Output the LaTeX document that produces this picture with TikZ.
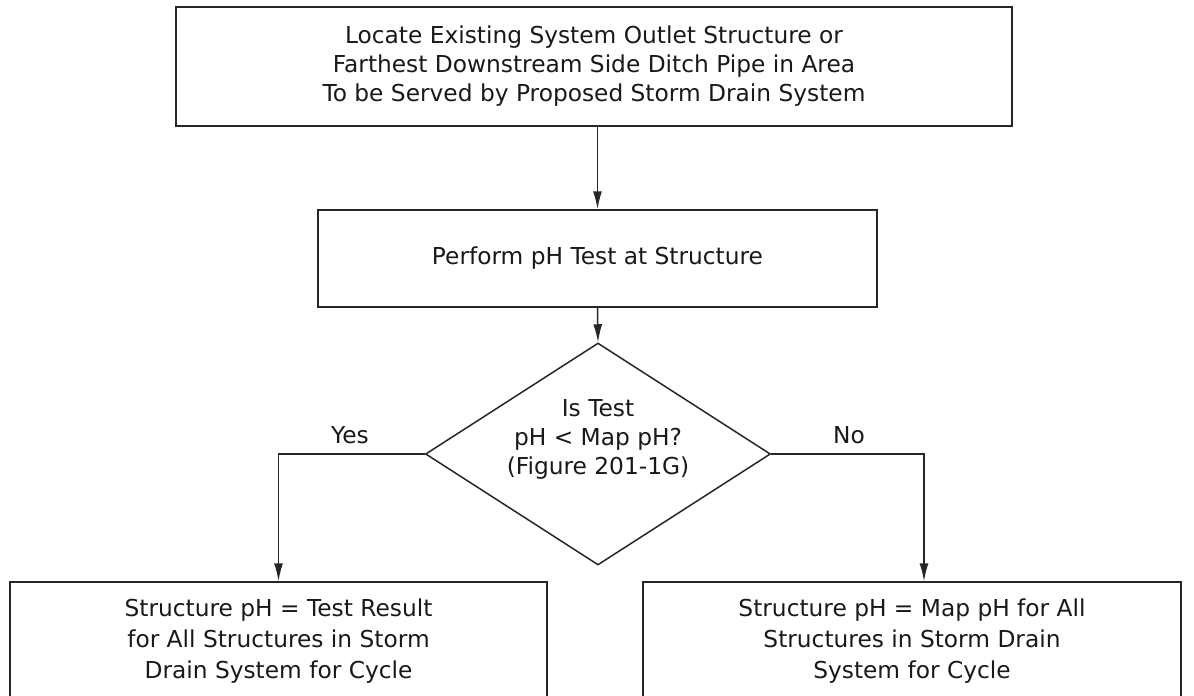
\documentclass[tikz,border=0pt]{standalone}
\usepackage{fontspec}
\setmainfont{DejaVu Sans}
\usetikzlibrary{shapes.geometric,arrows.meta}
\begin{document}
\begin{tikzpicture}[x=1pt,y=-1pt,
  every node/.style={text=black!90},
  box/.style={draw=black!85,line width=1.5pt,rectangle,inner sep=0pt,align=center,font=\fontsize{23.3}{29}\selectfont},
  bbox/.style={box,font=\fontsize{23.3}{31}\selectfont},
  dia/.style={draw=black!85,line width=1.5pt,diamond,inner sep=0pt},
  txt/.style={inner sep=0pt,align=center,font=\fontsize{23.3}{29}\selectfont},
  lbl/.style={font=\fontsize{23.3}{26}\selectfont,inner sep=0pt},
  arr/.style={draw=black!85,line width=1.5pt,-{Latex[length=18pt,width=9pt]}}]
\useasboundingbox (0,0) rectangle (1194,696);
\node[box,minimum width=836pt,minimum height=119pt] (top) at (594,66.5)
  {Locate Existing System Outlet Structure or\\Farthest Downstream Side Ditch Pipe in Area\\To be Served by Proposed Storm Drain System};
\node[box,minimum width=559pt,minimum height=97pt] (test) at (597.5,258.5) {Perform pH Test at Structure};
\node[dia,minimum width=345pt,minimum height=222pt] (dec) at (598,454) {};
\node[txt] (dectxt) at (598,439.5) {Is Test\\pH < Map pH?\\(Figure 201-1G)};
\node[bbox,minimum width=537pt,minimum height=118pt] (yes) at (278.5,641)
  {Structure pH = Test Result\\for All Structures in Storm\\Drain System for Cycle};
\node[bbox,minimum width=538pt,minimum height=118pt] (no) at (912,641)
  {Structure pH = Map pH for All\\Structures in Storm Drain\\System for Cycle};
\coordinate (nx) at (924,0);
\draw[arr] (test.north |- top.south) -- (test.north);
\draw[arr] (test.south) -- (dec.north);
\draw[arr] (dec.west) -| (yes.north);
\draw[arr] (dec.east) -| (nx |- no.north);
\node[lbl] (ylab) at (350,435) {Yes};
\node[lbl] (nlab) at (849,435) {No};
\end{tikzpicture}
\end{document}
